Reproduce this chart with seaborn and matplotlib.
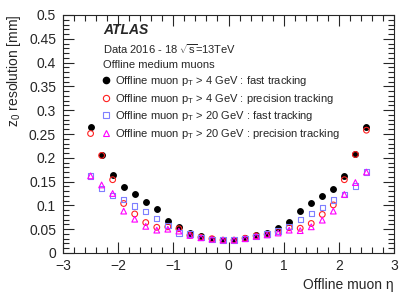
import numpy as np
import pandas as pd
import matplotlib
matplotlib.use("Agg")
import matplotlib.pyplot as plt
import seaborn as sns
from matplotlib.lines import Line2D
from matplotlib.ticker import MultipleLocator

# ===============================
# DATA
# ===============================
eta = [-2.5, -2.3, -2.1, -1.9, -1.7, -1.5, -1.3, -1.1, -0.9, -0.7, -0.5, -0.3, -0.1,
       0.1, 0.3, 0.5, 0.7, 0.9, 1.1, 1.3, 1.5, 1.7, 1.9, 2.1, 2.3, 2.5]

pt4_fast = [0.265, 0.206, 0.164, 0.139, 0.123, 0.107, 0.093, 0.067, 0.055, 0.043, 0.035, 0.030, 0.027,
            0.027, 0.031, 0.037, 0.043, 0.053, 0.066, 0.088, 0.104, 0.120, 0.134, 0.162, 0.209, 0.265]
pt4_prec = [0.251, 0.205, 0.154, 0.104, 0.082, 0.064, 0.054, 0.055, 0.051, 0.037, 0.033, 0.030, 0.027,
            0.027, 0.031, 0.036, 0.039, 0.045, 0.053, 0.052, 0.062, 0.081, 0.101, 0.154, 0.207, 0.258]
pt20_fast = [0.162, 0.135, 0.121, 0.112, 0.099, 0.087, 0.073, 0.058, 0.042, 0.040, 0.033, 0.029, 0.027,
             0.027, 0.030, 0.035, 0.040, 0.046, 0.056, 0.071, 0.083, 0.096, 0.111, 0.123, 0.141, 0.170]
pt20_prec = [0.162, 0.143, 0.125, 0.088, 0.071, 0.056, 0.048, 0.050, 0.046, 0.037, 0.032, 0.029, 0.027,
             0.027, 0.030, 0.035, 0.038, 0.042, 0.048, 0.047, 0.055, 0.069, 0.088, 0.123, 0.148, 0.170]

labels = [
    r"Offline muon p$_\mathregular{T}$ > 4 GeV : fast tracking",
    r"Offline muon p$_\mathregular{T}$ > 4 GeV : precision tracking",
    r"Offline muon p$_\mathregular{T}$ > 20 GeV : fast tracking",
    r"Offline muon p$_\mathregular{T}$ > 20 GeV : precision tracking",
]

# ===============================
# STYLE
# ===============================
sns.set_style("ticks")
plt.rcParams["font.family"] = ["Liberation Sans", "DejaVu Sans"]
plt.rcParams["mathtext.fontset"] = "custom"
plt.rcParams["mathtext.rm"] = "Liberation Sans"
plt.rcParams["mathtext.it"] = "Liberation Sans:italic"

fig = plt.figure(figsize=(4.15, 2.98), dpi=100)
ax = fig.add_axes([63 / 415, 1 - 253 / 298, (394 - 63) / 415, (253 - 15) / 298])

series = [
    (pt4_fast, "o", "black", "black", 17),
    (pt4_prec, "o", "none", "#ff2020", 17),
    (pt20_fast, "s", "none", "#7f7fff", 15),
    (pt20_prec, "^", "none", "#ff00ff", 17),
]

# draw the series
for vals, mk, fc, ec, sz in series:
    df = pd.DataFrame({"eta": eta, "res": vals})
    sns.scatterplot(data=df, x="eta", y="res", ax=ax, marker=mk, s=sz,
                    facecolors=fc, edgecolor=ec, linewidth=0.8, zorder=3)

ax.set_xlim(-3, 3)
ax.set_ylim(0, 0.5)
ax.xaxis.set_major_locator(MultipleLocator(1))
ax.xaxis.set_minor_locator(MultipleLocator(0.2))
ax.yaxis.set_minor_locator(MultipleLocator(0.01))
ax.set_yticks(np.arange(0, 0.51, 0.05))
ax.set_yticklabels(["0", "0.05", "0.1", "0.15", "0.2", "0.25", "0.3", "0.35", "0.4", "0.45", "0.5"])
ax.tick_params(which="both", direction="in", top=True, right=True, labelsize=10, width=0.8)
ax.tick_params(which="major", length=8)
ax.tick_params(which="minor", length=4)
ax.tick_params(axis="y", pad=5)
ax.tick_params(axis="x", pad=4)
for sp in ax.spines.values():
    sp.set_linewidth(0.8)

ax.set_xlabel("Offline muon η", fontsize=10, loc="right")
ax.set_ylabel(r"z$_\mathregular{0}$ resolution [mm]", fontsize=10, loc="top")

# ===============================
# ANNOTATIONS + LEGEND
# ===============================
fig.text(103 / 415, 1 - 30 / 298, "ATLAS", fontsize=10, fontweight="bold",
         style="italic", va="center")
fig.text(103 / 415, 1 - 49 / 298, r"Data 2016 - 18 $\sqrt{\mathregular{s}}$=13TeV",
         fontsize=8, va="center")
fig.text(103 / 415, 1 - 65 / 298, "Offline medium muons", fontsize=8, va="center")

handles = [
    Line2D([], [], ls="none", marker="o", mfc="black", mec="black", ms=4.5),
    Line2D([], [], ls="none", marker="o", mfc="none", mec="#ff2020", ms=4.5, mew=0.8),
    Line2D([], [], ls="none", marker="s", mfc="none", mec="#7f7fff", ms=4.2, mew=0.8),
    Line2D([], [], ls="none", marker="^", mfc="none", mec="#ff00ff", ms=4.5, mew=0.8),
]
fig.legend(handles, labels, loc="upper left", bbox_to_anchor=(101 / 415, 1 - 74 / 298),
           frameon=False, fontsize=8, handlelength=0.9, handletextpad=0.35,
           labelspacing=0.32, borderpad=0, borderaxespad=0)

fig.savefig("out.png", dpi=100)
